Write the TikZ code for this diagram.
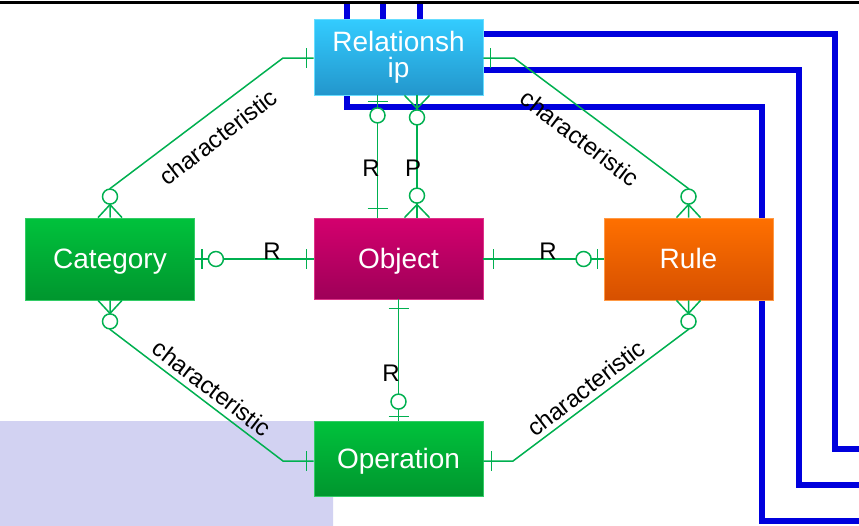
\documentclass[tikz,border=0pt]{standalone}
\usepackage{fontspec}
\setmainfont{Liberation Sans}
\usetikzlibrary{calc}
\definecolor{ergreen}{HTML}{00B050}
\definecolor{lav}{HTML}{D2D2F2}
\definecolor{bluel}{HTML}{0000DD}
\definecolor{relTop}{HTML}{33CCFF}
\definecolor{relBot}{HTML}{2396CC}
\definecolor{relBd}{HTML}{66DDFF}
\definecolor{grnTop}{HTML}{00C23C}
\definecolor{grnBot}{HTML}{00962E}
\definecolor{grnBd}{HTML}{33CC66}
\definecolor{magTop}{HTML}{D4006E}
\definecolor{magBot}{HTML}{9E0058}
\definecolor{magBd}{HTML}{DD3388}
\definecolor{orgTop}{HTML}{FF7000}
\definecolor{orgBot}{HTML}{D65000}
\definecolor{orgBd}{HTML}{FF9944}
\begin{document}
\begin{tikzpicture}[x=1pt,y=-1pt,
  conn/.style={draw=ergreen,line width=1.5pt},
  ring/.style={circle,draw=ergreen,fill=white,line width=1.5pt,minimum size=15pt,inner sep=0pt},
  bluepath/.style={draw=bluel,line width=6pt,line join=miter},
  ent/.style={minimum width=169pt,inner sep=0pt,text=white,font=\fontsize{28}{27}\selectfont,line width=0.8pt,align=center},
  one/.style={text height=19pt,text depth=0pt},
  lbl/.style={font=\fontsize{24}{24}\selectfont,inner sep=0pt,text=black}]
\useasboundingbox (0,0) rectangle (859,525);
% background lavender area
\fill[lav,rounded corners=14pt] (-20,421) rectangle (333,545);
% blue lines
\draw[bluepath] (347,4) -- (347,107) -- (762,107) -- (762,521) -- (865,521);
\draw[bluepath] (383,4) -- (383,70) -- (799,70) -- (799,485) -- (865,485);
\draw[bluepath] (420,4) -- (420,34) -- (835,34) -- (835,449) -- (865,449);
% top black rule
\draw[line width=3pt] (0,2) -- (859,2);
% entities
\node[ent,minimum height=76pt,top color=relTop,bottom color=relBot,draw=relBd] (rel) at (398.5,57) {Relationsh\\[-1pt]ip};
\node[ent,one,minimum height=82pt,top color=grnTop,bottom color=grnBot,draw=grnBd] (cat) at (110,259) {Category};
\node[ent,one,minimum height=81pt,top color=magTop,bottom color=magBot,draw=magBd] (obj) at (398.5,258.5) {Object};
\node[ent,one,minimum height=82pt,top color=orgTop,bottom color=orgBot,draw=orgBd] (rule) at (688.5,259) {Rule};
\node[ent,one,minimum height=75pt,top color=grnTop,bottom color=grnBot,draw=grnBd] (op) at (398.5,458.5) {Operation};
% bend points
\coordinate (k1) at (283,58);
\coordinate (k2) at (514,58);
\coordinate (k3) at (283,461);
\coordinate (k4) at (513,461);
% Category top -> Relationship left
\draw[conn] (cat.north) -- ++(0,-29) -- (k1) -- (rel.west |- k1);
\draw[conn] ($(cat.north)+(-12,0)$) -- ++(12,-13) -- ++(12,13);
\node[ring] at ($(cat.north)+(0,-21)$) {};
\draw[conn] ($(rel.west |- k1)+(-7,-10)$) -- ++(0,20);
% Rule top -> Relationship right
\draw[conn] (rule.north) -- ++(0,-29) -- (k2) -- (rel.east |- k2);
\draw[conn] ($(rule.north)+(-12,0)$) -- ++(12,-13) -- ++(12,13);
\node[ring] at ($(rule.north)+(0,-21)$) {};
\draw[conn] ($(rel.east |- k2)+(7,-10)$) -- ++(0,20);
% Category bottom -> Operation left
\draw[conn] (cat.south) -- ++(0,29) -- (k3) -- (op.west |- k3);
\draw[conn] ($(cat.south)+(-12,0)$) -- ++(12,13) -- ++(12,-13);
\node[ring] at ($(cat.south)+(0,21)$) {};
\draw[conn] ($(op.west |- k3)+(-7,-10)$) -- ++(0,20);
% Rule bottom -> Operation right
\draw[conn] (rule.south) -- ++(0,29) -- (k4) -- (op.east |- k4);
\draw[conn] ($(rule.south)+(-12,0)$) -- ++(12,13) -- ++(12,-13);
\node[ring] at ($(rule.south)+(0,21)$) {};
\draw[conn] ($(op.east |- k4)+(8,-10)$) -- ++(0,20);
% Category right -> Object left
\draw[conn] (cat.east) -- (obj.west |- cat.east);
\draw[conn] ($(cat.east)+(7,-10)$) -- ++(0,20);
\node[ring] at ($(cat.east)+(21,0)$) {};
\draw[conn] ($(obj.west |- cat.east)+(-7,-10)$) -- ++(0,20);
% Object right -> Rule left
\draw[conn] (obj.east |- rule.west) -- (rule.west);
\draw[conn] ($(obj.east |- rule.west)+(10,-10)$) -- ++(0,20);
\node[ring] at ($(rule.west)+(-20,0)$) {};
\draw[conn] ($(rule.west)+(-6,-10)$) -- ++(0,20);
% Object bottom -> Operation top
\draw[conn] (obj.south) -- (op.north);
\draw[conn] ($(obj.south)+(-10,9)$) -- ++(20,0);
\node[ring] at ($(op.north)+(0,-19)$) {};
\draw[conn] ($(op.north)+(-10,-4)$) -- ++(20,0);
% Relationship bottom -> Object top (R)
\draw[conn] ($(rel.south)+(-21,0)$) -- ($(obj.north)+(-21,0)$);
\draw[conn] ($(rel.south)+(-31,6)$) -- ++(20,0);
\node[ring] at ($(rel.south)+(-21,20)$) {};
\draw[conn] ($(obj.north)+(-31,-9)$) -- ++(20,0);
% Relationship bottom -> Object top (P)
\draw[conn] ($(rel.south)+(18.5,0)$) -- ($(obj.north)+(18.5,0)$);
\draw[conn] ($(rel.south)+(6,0)$) -- ++(12.5,13) -- ++(12.5,-13);
\node[ring] at ($(rel.south)+(18.5,22)$) {};
\node[ring] at ($(obj.north)+(18.5,-22)$) {};
\draw[conn] ($(obj.north)+(6,0)$) -- ++(12.5,-13) -- ++(12.5,13);
% labels
\node[lbl] (l1) at (272,251) {R};
\node[lbl] (l2) at (548,251) {R};
\node[lbl] (l3) at (371,168) {R};
\node[lbl] (l4) at (413,168) {P};
\node[lbl] (l5) at (391,373) {R};
\node[lbl,rotate=37.5] (c1) at (218,137) {characteristic};
\node[lbl,rotate=-37.5] (c2) at (580,138) {characteristic};
\node[lbl,rotate=-37.5] (c3) at (212,388) {characteristic};
\node[lbl,rotate=37.5] (c4) at (586,388) {characteristic};
\end{tikzpicture}
\end{document}
